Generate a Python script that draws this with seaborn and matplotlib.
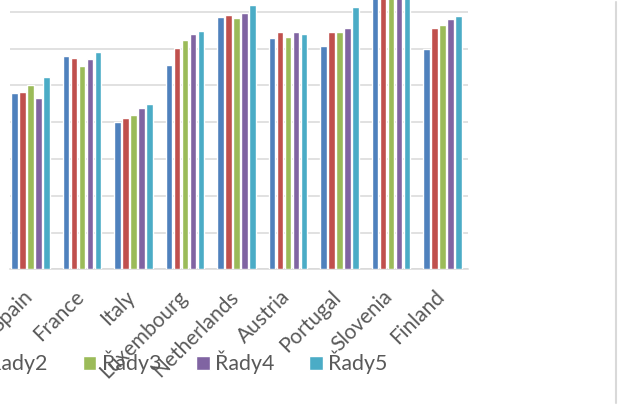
import matplotlib
matplotlib.use("Agg")
import matplotlib.pyplot as plt
from matplotlib.lines import Line2D
from matplotlib.transforms import ScaledTranslation
import seaborn as sns
import pandas as pd

countries = ["Spain", "France", "Italy", "Luxembourg", "Netherlands",
             "Austria", "Portugal", "Slovenia", "Finland"]
series_names = ["Řady1", "Řady2", "Řady3", "Řady4", "Řady5"]
rady1 = [48.0, 58.0, 40.1, 55.4, 68.6, 62.8, 60.6, 76.0, 59.8]
rady2 = [48.2, 57.4, 41.1, 60.2, 69.2, 64.4, 64.5, 77.0, 65.6]
rady3 = [50.1, 55.3, 41.9, 62.4, 68.2, 63.1, 64.5, 76.5, 66.4]
rady4 = [46.5, 57.1, 43.8, 63.9, 69.7, 64.6, 65.7, 77.5, 67.9]
rady5 = [52.2, 59.0, 44.9, 64.7, 71.9, 64.0, 71.2, 76.0, 68.8]
colors = ["#4F81BD", "#C0504D", "#9BBB59", "#8064A2", "#4BACC6"]

rows = []
for name, vals in zip(series_names, [rady1, rady2, rady3, rady4, rady5]):
    for c, v in zip(countries, vals):
        rows.append({"country": c, "series": name, "value": v})
df = pd.DataFrame(rows)

sns.set_style("white")
plt.rcParams["font.family"] = ["Lato", "DejaVu Sans"]
TXT = "#595959"
GRID = "#D9D9D9"

W, H = 620, 405
fig = plt.figure(figsize=(W / 100, H / 100), dpi=100)
ax_left, ax_right = 10, 467.7
ax_bottom = 269.3
ymax = 74
px_per_unit = 3.68
ax = fig.add_axes([ax_left / W, (H - ax_bottom) / H,
                   (ax_right - ax_left) / W, ymax * px_per_unit / H])

sns.barplot(data=df, x="country", y="value", hue="series", order=countries,
            hue_order=series_names, palette=colors, width=0.777, gap=0.2,
            saturation=1, errorbar=None, ax=ax, zorder=3)
handles, labels = ax.get_legend_handles_labels()
if ax.get_legend() is not None:
    ax.get_legend().remove()

ax.set_xlim(-0.398, 8.489)
ax.set_ylim(0, ymax)
ax.set_yticks(range(0, 80, 10))
ax.yaxis.grid(True, color=GRID, linewidth=1.1, zorder=0)
ax.set_axisbelow(True)
ax.tick_params(axis="y", left=False, labelleft=False)
for s in ["top", "right", "left"]:
    ax.spines[s].set_visible(False)
ax.spines["bottom"].set_color(GRID)
ax.spines["bottom"].set_linewidth(1.1)
ax.set_xlabel("")
ax.set_ylabel("")
ax.tick_params(axis="x", length=0, pad=12.5, labelsize=15, labelcolor=TXT)
shift = ScaledTranslation(-0.085, 0, fig.dpi_scale_trans)
for lab in ax.get_xticklabels():
    lab.set_rotation(45)
    lab.set_ha("right")
    lab.set_va("top")
    lab.set_rotation_mode("anchor")
    lab.set_transform(lab.get_transform() + shift)

fs = 15.4
fpx = fs * 100 / 72
sq = 13.5 / fpx
fig.legend(handles, labels, ncol=5, loc="center left",
           bbox_to_anchor=(-143.5 / W, (H - 362.5) / H),
           frameon=False, borderpad=0, borderaxespad=0,
           handlelength=sq, handleheight=sq, handletextpad=5.3 / fpx,
           columnspacing=35 / fpx, fontsize=fs, labelcolor=TXT)

fig.add_artist(Line2D([616 / W, 616 / W], [1 - 2 / H, 1 - 403 / H],
                      transform=fig.transFigure, color=GRID, linewidth=1.5))

fig.savefig("out.png", dpi=100)
